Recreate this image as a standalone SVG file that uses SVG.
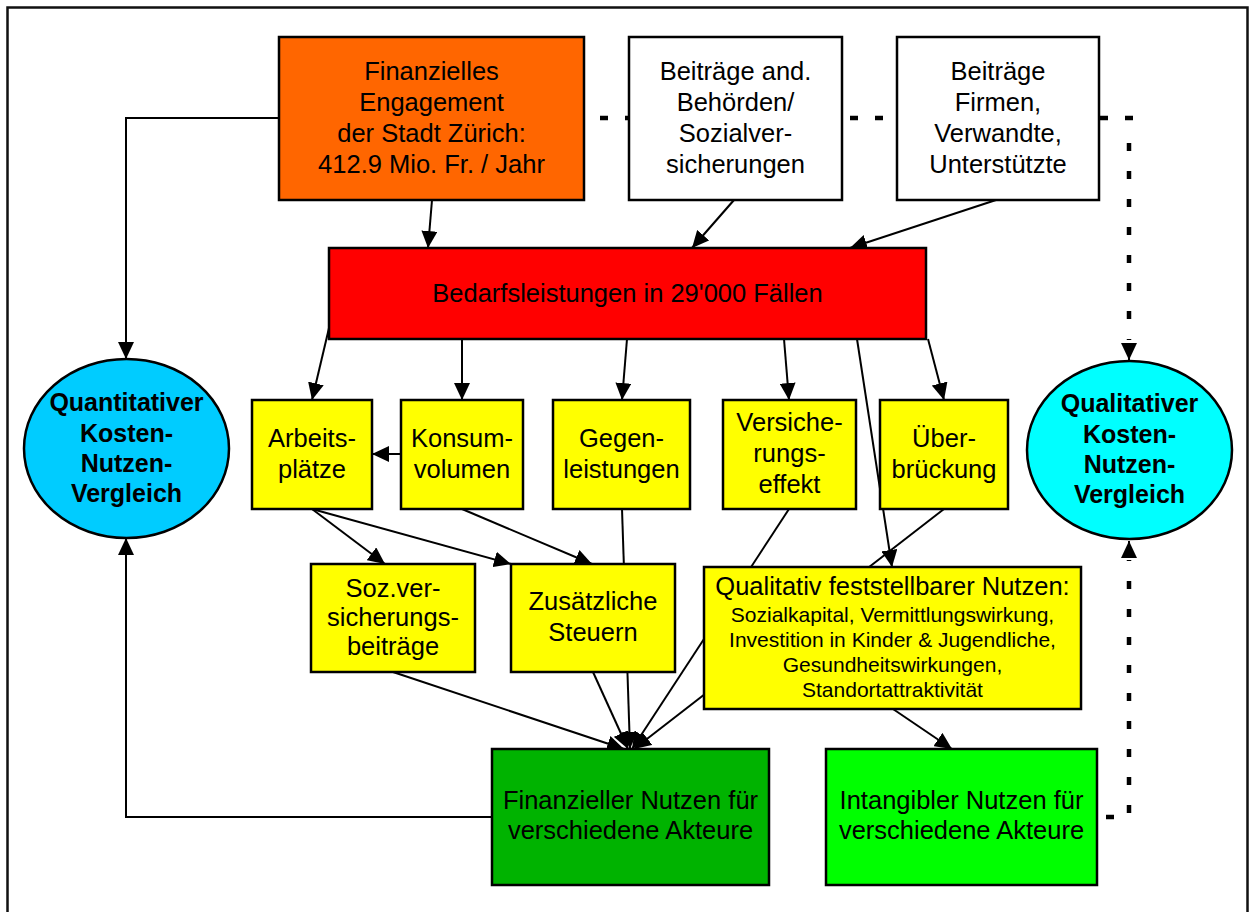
<svg xmlns="http://www.w3.org/2000/svg" width="1250" height="912" viewBox="0 0 1250 912">
<defs>
<marker id="ah" markerUnits="userSpaceOnUse" markerWidth="18" markerHeight="16" refX="17" refY="8" orient="auto">
<path d="M0,0 L17,8 L0,16 z" fill="#000" stroke="none"/>
</marker>
<style>
.box{stroke:#000;stroke-width:2.5}
.ln{fill:none;stroke:#000;stroke-width:2}
.arr{fill:none;stroke:#000;stroke-width:2;marker-end:url(#ah)}
.dot{fill:none;stroke:#000;stroke-width:4.5}
text{font-family:"Liberation Sans",Arial,sans-serif;font-size:25.5px;fill:#000;text-anchor:middle}
.b{font-weight:bold;font-size:25px}
.s{font-size:21px}
</style>
</defs>
<rect x="0" y="0" width="1250" height="912" fill="#fff"/>
<rect x="7.5" y="7.5" width="1240" height="930" fill="none" stroke="#111" stroke-width="2.5"/>

<g id="connectors">
<path class="arr" d="M279,118 H126 V359"/>
<path class="arr" d="M492,817 H126 V538"/>
<path class="arr" d="M432,200 L428,248"/>
<path class="arr" d="M734,200 L692,248"/>
<path class="arr" d="M996,200 L850,248"/>
<path class="arr" d="M329,328 L312,400"/>
<path class="arr" d="M462,339 V400"/>
<path class="arr" d="M627,339 L622,400"/>
<path class="arr" d="M784,339 L789,400"/>
<path class="arr" d="M928,339 L944,400"/>
<path class="arr" d="M857,339 L892,567"/>
<path class="arr" d="M401,454 H372"/>
<path class="arr" d="M312,509 L385,564"/>
<path class="arr" d="M312,509 L511,564"/>
<path class="arr" d="M462,509 L592,564"/>
<path class="arr" d="M622,509 L630,749"/>
<path class="arr" d="M789,509 L632,749"/>
<path class="arr" d="M944,509 L634,749"/>
<path class="arr" d="M393,672 L624,749"/>
<path class="arr" d="M593,672 L628,749"/>
<path class="arr" d="M893,709 L952,749"/>
<path class="dot" d="M584,118 H1133" stroke-dasharray="8 17" stroke-dashoffset="9"/>
<path class="dot" d="M1129,143 V340" stroke-dasharray="8 20"/>
<path class="arr" d="M1129,345 V360"/>
<path class="dot" d="M1106,817 H1114"/>
<path class="dot" d="M1129,813 V560" stroke-dasharray="8 20"/>
<path class="arr" d="M1129,556 V541"/>
</g>

<g id="n-finanz">
<rect class="box" x="279" y="37" width="305" height="163" fill="#FF6600"/>
<text x="431.5" y="80">Finanzielles</text>
<text x="431.5" y="111">Engagement</text>
<text x="431.5" y="142">der Stadt Zürich:</text>
<text x="431.5" y="173">412.9 Mio. Fr. / Jahr</text>
</g>
<g id="n-behoerden">
<rect class="box" x="629" y="37" width="213" height="163" fill="#fff"/>
<text x="735.5" y="80">Beiträge and.</text>
<text x="735.5" y="111">Behörden/</text>
<text x="735.5" y="142">Sozialver-</text>
<text x="735.5" y="173">sicherungen</text>
</g>
<g id="n-firmen">
<rect class="box" x="897" y="37" width="202" height="163" fill="#fff"/>
<text x="998" y="80">Beiträge</text>
<text x="998" y="111">Firmen,</text>
<text x="998" y="142">Verwandte,</text>
<text x="998" y="173">Unterstützte</text>
</g>
<g id="n-bedarf">
<rect class="box" x="329" y="248" width="597" height="91" fill="#FF0000"/>
<text x="627.5" y="302">Bedarfsleistungen in 29'000 Fällen</text>
</g>
<g id="n-quant">
<ellipse class="box" cx="126.5" cy="448.5" rx="102.5" ry="89.5" fill="#00CCFF"/>
<text class="b" x="126.5" y="411">Quantitativer</text>
<text class="b" x="126.5" y="442">Kosten-</text>
<text class="b" x="126.5" y="472">Nutzen-</text>
<text class="b" x="126.5" y="502">Vergleich</text>
</g>
<g id="n-qual-vgl">
<ellipse class="box" cx="1129.5" cy="450" rx="102.5" ry="89" fill="#00FFFF"/>
<text class="b" x="1129.5" y="412">Qualitativer</text>
<text class="b" x="1129.5" y="443">Kosten-</text>
<text class="b" x="1129.5" y="473">Nutzen-</text>
<text class="b" x="1129.5" y="503">Vergleich</text>
</g>
<g id="n-arbeit">
<rect class="box" x="252" y="400" width="120" height="109" fill="#FFFF00"/>
<text x="312" y="447">Arbeits-</text>
<text x="312" y="478">plätze</text>
</g>
<g id="n-konsum">
<rect class="box" x="401" y="400" width="122" height="109" fill="#FFFF00"/>
<text x="462" y="447">Konsum-</text>
<text x="462" y="478">volumen</text>
</g>
<g id="n-gegen">
<rect class="box" x="553" y="400" width="137" height="109" fill="#FFFF00"/>
<text x="621.5" y="447">Gegen-</text>
<text x="621.5" y="478">leistungen</text>
</g>
<g id="n-versich">
<rect class="box" x="723" y="400" width="133" height="109" fill="#FFFF00"/>
<text x="789.5" y="431">Versiche-</text>
<text x="789.5" y="462">rungs-</text>
<text x="789.5" y="493">effekt</text>
</g>
<g id="n-ueber">
<rect class="box" x="880" y="400" width="128" height="109" fill="#FFFF00"/>
<text x="944" y="447">Über-</text>
<text x="944" y="478">brückung</text>
</g>
<g id="n-soz">
<rect class="box" x="311" y="564" width="164" height="108" fill="#FFFF00"/>
<text x="393" y="597">Soz.ver-</text>
<text x="393" y="626">sicherungs-</text>
<text x="393" y="655">beiträge</text>
</g>
<g id="n-steuern">
<rect class="box" x="511" y="564" width="164" height="108" fill="#FFFF00"/>
<text x="593" y="610">Zusätzliche</text>
<text x="593" y="641">Steuern</text>
</g>
<g id="n-qual-nutzen">
<rect class="box" x="704" y="567" width="377" height="142" fill="#FFFF00"/>
<text x="892.5" y="595">Qualitativ feststellbarer Nutzen:</text>
<text class="s" x="892.5" y="622">Sozialkapital, Vermittlungswirkung,</text>
<text class="s" x="892.5" y="647">Investition in Kinder &amp; Jugendliche,</text>
<text class="s" x="892.5" y="672">Gesundheitswirkungen,</text>
<text class="s" x="892.5" y="697">Standortattraktivität</text>
</g>
<g id="n-fin-nutzen">
<rect class="box" x="492" y="749" width="277" height="136" fill="#00B300"/>
<text x="630.5" y="809">Finanzieller Nutzen für</text>
<text x="630.5" y="839">verschiedene Akteure</text>
</g>
<g id="n-intang">
<rect class="box" x="826" y="749" width="271" height="136" fill="#00FF00"/>
<text x="961.5" y="809">Intangibler Nutzen für</text>
<text x="961.5" y="839">verschiedene Akteure</text>
</g>
</svg>
